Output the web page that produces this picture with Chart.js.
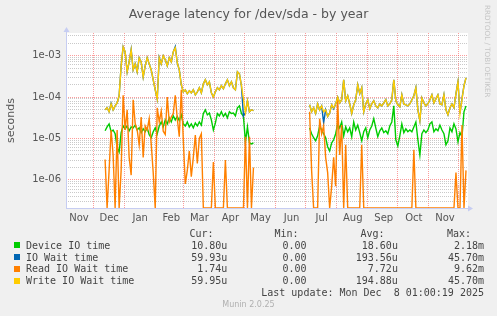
<!DOCTYPE html>
<html>
<head>
<meta charset="utf-8">
<script src="https://cdn.jsdelivr.net/npm/chart.js@4.4.1/dist/chart.umd.min.js"></script>
<style>
body { margin: 0; background: #f0f0f0; }
#wrap { position: relative; width: 497px; height: 316px; overflow: hidden; }
#chart { position: absolute; left: 0; top: 0; }
.t { position: absolute; white-space: pre; line-height: normal; }
.mono { font-family: "DejaVu Sans Mono", monospace; font-size: 10px; color: #444; }
</style>
</head>
<body>
<div id="wrap">
  <canvas id="chart" width="497" height="316"></canvas>
  <div class="t" id="title" style="left:0;width:497px;text-align:center;top:6.4px;font:12.5px 'DejaVu Sans';color:#555">Average latency for /dev/sda - by year</div>
  <div class="t" id="rrd" style="left:492.4px;top:5px;font:7.2px 'DejaVu Sans';color:#c4c4c4;transform:rotate(90deg);transform-origin:left top">RRDTOOL / TOBI OETIKER</div>
  <div class="t" id="munin" style="left:0;width:497px;text-align:center;top:299.6px;font:8px 'DejaVu Sans';color:#b0b0b0">Munin 2.0.25</div>
</div>
<script>
// x axis in days since 2024-11-04; samples every 2 days from 2024-12-13
const sampleStart = 39;
const sampleStep = 2;
const monthStarts = [-3, 27, 58, 89, 117, 148, 178, 209, 239, 270, 301, 331, 362, 392];
const monthNames = ['Nov', 'Dec', 'Jan', 'Feb', 'Mar', 'Apr', 'May', 'Jun', 'Jul', 'Aug', 'Sep', 'Oct', 'Nov'];

// values in microseconds, null = no data (May-June gap)
const deviceIO = [
  15.3, 19, 22.5, 14.5, 16, 13, 6, 4.7, 13.8, 20,
  17, 20, 15.3, 19, 18, 21, 16, 18, 13.8, 17,
  14.5, 18, 12.3, 10.4, 14.5, 18, 13, 20, 25, 19,
  28, 22.5, 31.5, 25, 35, 28, 34, 27, 37, 22.5,
  20, 25, 19, 22.5, 18, 23.5, 20, 25, 21, 40,
  49, 37, 41, 28, 16, 23.5, 40, 35, 44, 34,
  40, 31.5, 44, 40, 41, 35, 55, 61, 40, 34,
  8.3, 19, 7.8, 7.4, 7.8,
  null, null, null, null, null, null, null, null, null, null, null, null, null, null,
  null, null, null, null, null, null, null, null, null, null, null, null, null,
  18, 13, 10.4, 8.8, 11.6, 20, 16, 13, 10.4, 6.3,
  5, 7.8, 9.3, 13, 22.5, 18, 25, 11.6, 19, 14.5,
  18, 11, 25, 16, 21, 13.8, 8.8, 14.5, 18, 10.4,
  16, 20, 30, 18, 11, 15.3, 18, 13.8, 15.3, 13,
  20, 25, 61, 9.3, 6.6, 11.6, 22.5, 13.8, 17, 14.5,
  16, 14.5, 19, 25, 9.3, 4, 13, 16, 13.8, 16,
  22.5, 25, 14.5, 17, 15.3, 21, 16, 13, 7, 8.8,
  18, 14.5, 22.5, 17, 8.3, 13.8, 11, 44, 61
];
const ioWait = [
  49, 55, 44, 70, 49, 61, 72, 107, 565, 1620,
  1230, 405, 705, 1400, 450, 630, 405, 880, 705, 305,
  565, 880, 630, 450, 260, 149, 90, 900, 630, 985,
  790, 565, 880, 705, 1230, 1650, 670, 450, 197, 133,
  149, 120, 141, 126, 149, 113, 133, 167, 126, 208,
  260, 197, 233, 126, 100, 133, 167, 149, 187, 158,
  208, 260, 187, 233, 167, 149, 405, 362, 187, 35,
  42, 81, 44, 49, 47,
  null, null, null, null, null, null, null, null, null, null, null, null, null, null,
  null, null, null, null, null, null, null, null, null, null, null, null, null,
  65, 44, 55, 40, 68, 49, 61, 24, 49, 34,
  41, 65, 52, 68, 100, 72, 86, 260, 81, 107,
  68, 40, 65, 86, 197, 120, 167, 44, 68, 86,
  52, 68, 81, 61, 55, 68, 61, 72, 86, 61,
  68, 86, 260, 81, 65, 58, 113, 68, 65, 61,
  68, 86, 107, 167, 49, 27, 95, 72, 61, 68,
  86, 113, 72, 90, 113, 68, 65, 113, 49, 37,
  55, 68, 55, 120, 233, 40, 92, 187, 290
];
const readWait = [
  3.1, 0, 1.7, 16, 4, 0, 16, 0, 1.7, 110,
  16, 49, 3.5, 1.3, 86, 23, 16, 7, 33, 3.5,
  20, 16, 30, 7.5, 1.5, 0, 55, 25, 46, 15,
  12.5, 100, 25, 33, 40, 110, 30, 11, 150, 9.3,
  0.8, 1.7, 5, 1.2, 3.5, 12, 2.5, 10, 13, 0,
  0, 0, 0, 0, 2.7, 0, 0, 0, 0, 0,
  3, 0, 0, 0, 0, 0, 0, 0, 0, 0,
  11, 0, 11, 0, 2,
  null, null, null, null, null, null, null, null, null, null, null, null, null, null,
  null, null, null, null, null, null, null, null, null, null, null, null, null,
  44, 1.7, 0, 0, 0, 30, 13, 20, 3.5, 1.5,
  0, 0.7, 3.5, 0.7, 86, 4, 21, 0, 7, 0,
  0, 0, 0, 0, 0, 0, 7, 0, 0, 0,
  0, 0, 0, 0, 0, 0, 0, 0, 0, 0,
  0, 0, 0, 0, 0, 0, 0, 0, 0, 0,
  0, 0, 5.3, 0, 0, 0, 0, 0, 0, 0,
  0, 0, 0, 0, 0, 0, 0, 0, 0, 0,
  0, 0, 0, 1.5, 0, 0, 21, 0, 1.7
];
const writeWait = [
  49, 55, 44, 68, 49, 61, 72, 107, 565, 1620,
  1230, 405, 705, 1370, 450, 630, 405, 880, 705, 305,
  565, 880, 630, 450, 260, 149, 90, 880, 630, 985,
  790, 565, 880, 705, 1230, 1530, 670, 450, 197, 133,
  149, 120, 141, 126, 149, 113, 133, 167, 126, 208,
  260, 197, 233, 126, 100, 133, 167, 149, 187, 158,
  208, 260, 187, 233, 167, 149, 405, 362, 187, 90,
  42, 81, 44, 49, 47,
  null, null, null, null, null, null, null, null, null, null, null, null, null, null,
  null, null, null, null, null, null, null, null, null, null, null, null, null,
  65, 44, 55, 40, 68, 49, 61, 44, 49, 34,
  41, 65, 55, 68, 100, 72, 86, 260, 81, 107,
  68, 40, 65, 86, 197, 120, 167, 44, 68, 86,
  52, 68, 81, 61, 55, 68, 61, 72, 86, 61,
  68, 86, 260, 81, 65, 58, 113, 68, 65, 61,
  68, 86, 107, 167, 49, 27, 95, 72, 61, 68,
  86, 113, 72, 90, 113, 68, 65, 113, 49, 37,
  55, 68, 55, 120, 233, 40, 86, 187, 290
];

const seriesNames = ['Device IO time', 'IO Wait time', 'Read IO Wait time', 'Write IO Wait time'];
const seriesColors = ['#00cc00', '#0066b3', '#ff8000', '#ffcc00'];
const curValues = ['10.80u', '59.93u', '1.74u', '59.95u'];
const minValues = ['0.00', '0.00', '0.00', '0.00'];
const avgValues = ['18.60u', '193.56u', '7.72u', '194.88u'];
const maxValues = ['2.18m', '45.70m', '9.62m', '45.70m'];
const lastUpdate = 'Last update: Mon Dec  8 01:00:19 2025';

// legend block (html text)
const wrap = document.getElementById('wrap');
function addText(txt, opts) {
  const d = document.createElement('div');
  d.className = 't mono';
  d.textContent = txt;
  d.style.top = (opts.base - 9.3) + 'px';
  if (opts.left !== undefined) d.style.left = opts.left + 'px';
  if (opts.right !== undefined) { d.style.right = (497 - opts.right) + 'px'; d.style.textAlign = 'right'; }
  wrap.appendChild(d);
}
addText('Cur:', {base: 237, left: 189.5});
addText('Min:', {base: 237, left: 274.5});
addText('Avg:', {base: 237, left: 360.5});
addText('Max:', {base: 237, left: 447});
const rowBase = [248.9, 260.8, 272.7, 284.6];
seriesNames.forEach((name, i) => {
  const sq = document.createElement('div');
  sq.style.cssText = 'position:absolute;left:14px;width:6px;height:6px;top:' + (rowBase[i] - 7) + 'px;background:' + seriesColors[i];
  wrap.appendChild(sq);
  addText(name, {base: rowBase[i], left: 26});
  addText(curValues[i], {base: rowBase[i], right: 227.3});
  addText(minValues[i], {base: rowBase[i], right: 306.6});
  addText(avgValues[i], {base: rowBase[i], right: 397.9});
  addText(maxValues[i], {base: rowBase[i], right: 484});
});
addText(lastUpdate, {base: 296.5, right: 484});

const yMin = 2.1e-7, yMax = 3.5e-3;

// zero readings sit on the bottom edge like rrdtool does on a log axis
const toPoints = arr => arr.map((v, i) => ({
  x: sampleStart + i * sampleStep,
  y: v === null ? null : (v === 0 ? yMin : v * 1e-6)
}));

const gridDays = monthStarts.filter(d => d > 0 && d < 401);
const labelDays = new Map(monthNames.map((n, i) => [monthStarts[i] + 16, n]));
const xTicks = gridDays.concat([...labelDays.keys()]).sort((a, b) => a - b);

const yTicks = [];
for (let e = -7; e <= -3; e++) {
  for (let m = 1; m <= 9; m++) {
    const v = parseFloat(m + 'e' + e);
    if (v >= yMin && v <= yMax) yTicks.push(v);
  }
}
const isDecade = v => Math.abs(Math.log10(v) - Math.round(Math.log10(v))) < 1e-9;

const majorGrid = 'rgba(250,90,90,0.6)';
const minorGrid = 'rgba(165,165,165,0.6)';
const axisColor = '#c6cdf2';

const plotFrame = {
  id: 'plotFrame',
  beforeDraw(chart) {
    const {ctx, chartArea: a} = chart;
    ctx.save();
    ctx.fillStyle = '#ffffff';
    ctx.fillRect(a.left, a.top, a.right - a.left, a.bottom - a.top);
    ctx.restore();
  },
  afterDraw(chart) {
    const {ctx, chartArea: a} = chart;
    ctx.save();
    ctx.strokeStyle = axisColor;
    ctx.fillStyle = axisColor;
    ctx.lineWidth = 1;
    ctx.beginPath();
    ctx.moveTo(a.left + 0.5, a.bottom + 0.5);
    ctx.lineTo(a.left + 0.5, a.top - 2);
    ctx.moveTo(a.left, a.bottom + 0.5);
    ctx.lineTo(a.right + 1, a.bottom + 0.5);
    ctx.stroke();
    ctx.beginPath();
    ctx.moveTo(a.left - 2.5, a.top - 1);
    ctx.lineTo(a.left + 3.5, a.top - 1);
    ctx.lineTo(a.left + 0.5, a.top - 6);
    ctx.closePath();
    ctx.fill();
    ctx.beginPath();
    ctx.moveTo(a.right, a.bottom - 2.5);
    ctx.lineTo(a.right, a.bottom + 3.5);
    ctx.lineTo(a.right + 5, a.bottom + 0.5);
    ctx.closePath();
    ctx.fill();
    ctx.restore();
  }
};

const lineSet = (i, data, order) => ({
  label: seriesNames[i],
  data: toPoints(data),
  borderColor: seriesColors[i],
  borderWidth: 1.4,
  pointRadius: 0,
  tension: 0,
  fill: false,
  spanGaps: false,
  order: order
});

new Chart(document.getElementById('chart'), {
  type: 'line',
  data: {
    datasets: [
      lineSet(0, deviceIO, 4),
      lineSet(1, ioWait, 3),
      lineSet(2, readWait, 2),
      lineSet(3, writeWait, 1)
    ]
  },
  options: {
    responsive: false,
    animation: false,
    devicePixelRatio: 1,
    layout: {padding: {top: 33, right: 29, bottom: 0, left: 0}},
    plugins: {legend: {display: false}, tooltip: {enabled: false}, title: {display: false}},
    scales: {
      x: {
        type: 'linear',
        min: 0,
        max: 401,
        afterFit: s => { s.height = 108; },
        afterBuildTicks: s => { s.ticks = xTicks.map(v => ({value: v})); },
        ticks: {
          autoSkip: false,
          maxRotation: 0,
          padding: 4,
          color: '#555',
          font: {family: 'DejaVu Sans', size: 10},
          callback: v => labelDays.get(v) || ''
        },
        grid: {
          drawTicks: false,
          borderDash: [1, 1],
          color: c => (c.tick && gridDays.includes(c.tick.value)) ? majorGrid : 'rgba(0,0,0,0)'
        },
        border: {display: false, dash: [1, 1]}
      },
      y: {
        type: 'logarithmic',
        min: yMin,
        max: yMax,
        afterFit: s => { s.width = 66; },
        afterBuildTicks: s => { s.ticks = yTicks.map(v => ({value: v})); },
        ticks: {
          autoSkip: false,
          padding: 5,
          color: '#555',
          font: {family: 'DejaVu Sans', size: 10},
          callback: v => isDecade(v) ? '1e-' + String(-Math.round(Math.log10(v))).padStart(2, '0') : ''
        },
        grid: {
          drawTicks: false,
          borderDash: [1, 1],
          color: c => (c.tick && isDecade(c.tick.value)) ? majorGrid : minorGrid
        },
        border: {display: false, dash: [1, 1]},
        title: {
          display: true,
          text: 'seconds',
          color: '#555',
          font: {family: 'DejaVu Sans', size: 11},
          padding: {top: 5, bottom: 0}
        }
      }
    }
  },
  plugins: [plotFrame]
});
</script>
</body>
</html>
